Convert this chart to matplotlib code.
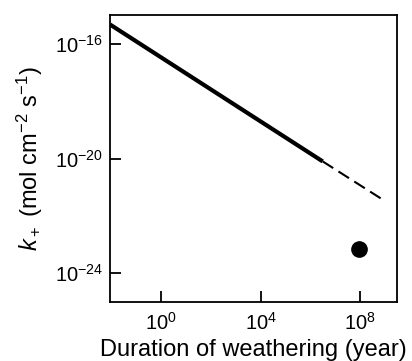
import matplotlib

matplotlib.use("Agg")
import matplotlib.pyplot as plt
import numpy as np

plt.rcParams["font.family"] = ["Liberation Sans", "DejaVu Sans"]
plt.rcParams["mathtext.fontset"] = "custom"
plt.rcParams["mathtext.rm"] = "Liberation Sans"
plt.rcParams["mathtext.it"] = "Liberation Sans:italic"

# Rate trend (log10 values)
solid_log_t = [-2.06, 6.5]
solid_log_k = [-15.33, -20.1]
dashed_log_t = [6.5, 8.95]
dashed_log_k = [-20.1, -21.45]

# Single measured point
point_log_t = [7.95]
point_log_k = [-23.14]

fig = plt.figure(figsize=(4.12, 3.61), dpi=100)
ax = fig.add_axes([0.267, 0.1634, 0.697, 0.795])

ax.plot(10 ** np.array(solid_log_t), 10 ** np.array(solid_log_k),
        color="black", linewidth=3.0, solid_capstyle="butt")
ax.plot(10 ** np.array(dashed_log_t), 10 ** np.array(dashed_log_k),
        color="black", linewidth=1.5, dashes=(6, 3))
ax.plot(10 ** np.array(point_log_t), 10 ** np.array(point_log_k),
        "o", color="black", markersize=11)

ax.set_xscale("log")
ax.set_yscale("log")
ax.set_xlim(10 ** -2.06, 10 ** 9.5)
ax.set_ylim(10 ** -25.0, 10 ** -15.0)
ax.set_xticks([1e0, 1e4, 1e8])
ax.set_yticks([1e-16, 1e-20, 1e-24])
ax.minorticks_off()
ax.tick_params(direction="in", length=8, width=1.3, labelsize=14.5)
ax.tick_params(axis="x", pad=7)
ax.tick_params(axis="y", pad=5)
for spine in ax.spines.values():
    spine.set_linewidth(1.3)

ax.set_xlabel("Duration of weathering (year)", fontsize=17, labelpad=4)
ax.set_ylabel(r"$k_+$ (mol cm$^{-2}$ s$^{-1}$)", fontsize=17, labelpad=7)

fig.savefig("out.png", dpi=100, facecolor="white")
